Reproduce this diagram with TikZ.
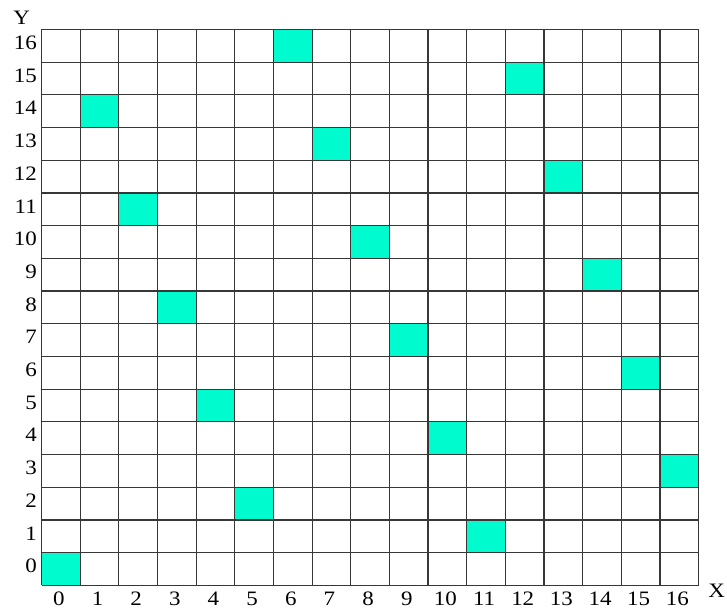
\documentclass[tikz,border=0pt]{standalone}
\usepackage{graphicx}
\usepackage{fontspec}
\setmainfont{Liberation Serif}
\definecolor{cellfill}{RGB}{0,252,206}
\definecolor{gridline}{RGB}{55,55,55}
\newcommand{\widetxt}[1]{\scalebox{1.12}[1]{#1}}
\begin{document}
\begin{tikzpicture}[x=1pt,y=1pt,
  lbl/.style={font=\fontsize{20.5}{22}\selectfont, inner sep=0pt},
  gridpen/.style={draw=gridline, line width=1.2pt},
  hit/.style={fill=cellfill}]
\useasboundingbox (0,0) rectangle (727,610);
\pgfmathsetmacro{\cw}{(698.7-41.5)/17}
\pgfmathsetmacro{\rh}{(580.5-24.7)/17}
\def\xo{41.5}
\def\yo{24.7}
% highlighted cells: row = -3*col mod 17
\foreach \c/\r in {0/0,1/14,2/11,3/8,4/5,5/2,6/16,7/13,8/10,9/7,10/4,11/1,12/15,13/12,14/9,15/6,16/3}{
  \fill[hit] ({\xo+\c*\cw},{\yo+\r*\rh}) rectangle ({\xo+(\c+1)*\cw},{\yo+(\r+1)*\rh});
}
% grid
\foreach \i in {0,...,17}{
  \draw[gridpen] ({\xo+\i*\cw},\yo) -- ({\xo+\i*\cw},{\yo+17*\rh});
  \draw[gridpen] (\xo,{\yo+\i*\rh}) -- ({\xo+17*\cw},{\yo+\i*\rh});
}
% axis labels
\foreach \i in {0,...,16}{
  \node[lbl] (xl\i) at ({\xo+(\i+0.5)*\cw-2},11) {\widetxt{\i}};
  \node[lbl, anchor=east] (yl\i) at (37,{\yo+(\i+0.5)*\rh+3}) {\widetxt{\i}};
}
\node[lbl] (ylab) at (21.7,592) {\widetxt{Y}};
\node[lbl] (xlab) at (716.7,19.5) {\widetxt{X}};
\end{tikzpicture}
\end{document}
